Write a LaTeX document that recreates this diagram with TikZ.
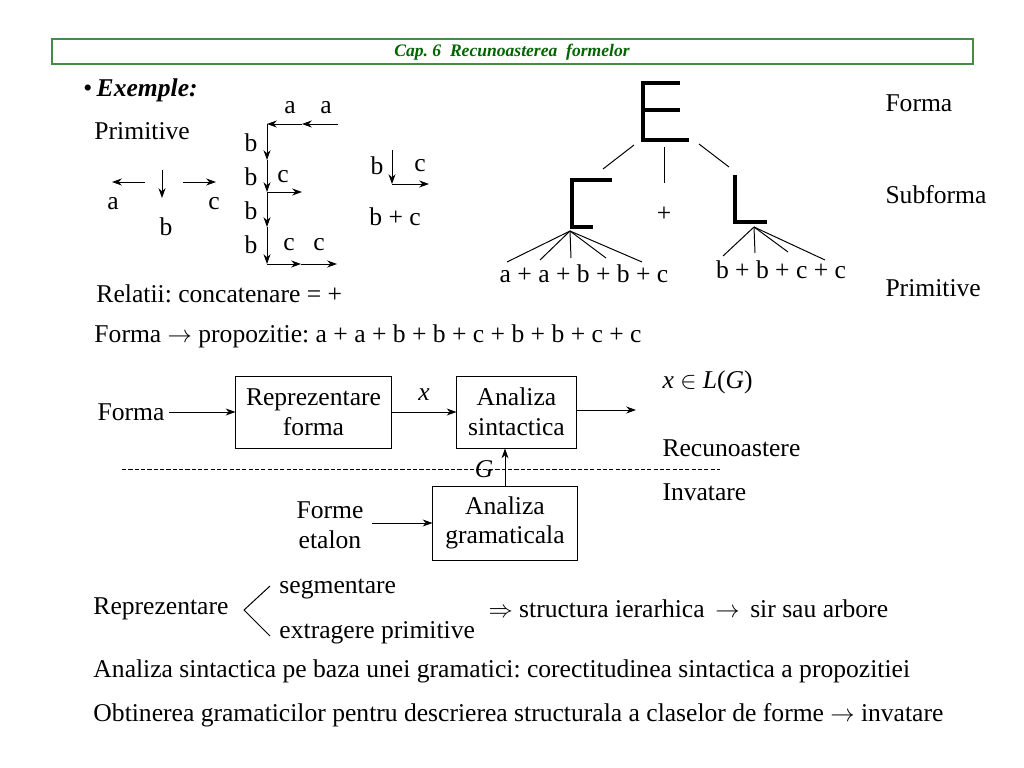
\documentclass[tikz,border=0pt]{standalone}
\usepackage{fontspec}
\setmainfont{Liberation Serif}
\usetikzlibrary{arrows.meta}
\definecolor{titlugreen}{RGB}{0,100,0}
\definecolor{ramagreen}{RGB}{70,140,70}
\frenchspacing
\begin{document}
\begin{tikzpicture}[x=0.025cm,y=-0.025cm,>={Stealth[length=7pt,width=5pt]},
  line width=0.7pt,
  txt/.style={font=\fontsize{18.2}{21}\selectfont, inner sep=0pt},
  lft/.style={txt, anchor=west},
  blok/.style={draw, line width=0.7pt, txt, align=center, minimum height=1.8cm},
  groasa/.style={line width=2.2pt}]

  \useasboundingbox (0,0) rectangle (1024,768);

  % -------------------------
  % Antet
  % -------------------------
  \draw[ramagreen, line width=1pt] (52,39) rectangle (973,64);
  \node[font=\fontsize{12.5}{14}\selectfont\bfseries\itshape, text=titlugreen] (titlu) at (512,52)
    {Cap. 6 \ Recunoasterea \ formelor};

  % -------------------------
  % Exemple: primitive
  % -------------------------
  \node[lft] (exemple) at (83,90) {\textbullet\,\textbf{\textit{Exemple:}}};
  \node[lft] (prim) at (94,131) {Primitive};

  \draw[->] (145,182) -- (112,182);
  \draw[->] (162,170) -- (162,198);
  \draw[->] (183,182) -- (216,182);
  \node[txt] (pa) at (113,204) {a};
  \node[txt] (pb) at (166,227) {b};
  \node[txt] (pc) at (214,204) {c};

  % lantul de primitive
  \draw[->] (338,124) -- (302,124);
  \draw[->] (302,124) -- (267,124);
  \draw[->] (267,124) -- (267,160);
  \draw[->] (267,160) -- (267,192);
  \draw[->] (267,192) -- (302,192);
  \draw[->] (267,192) -- (267,227);
  \draw[->] (267,227) -- (267,264);
  \draw[->] (267,264) -- (301,264);
  \draw[->] (301,264) -- (337,264);
  \node[txt] (la1) at (290,108) {a};
  \node[txt] (la2) at (326,108) {a};
  \node[txt] (lb1) at (251,143) {b};
  \node[txt] (lb2) at (251,177) {b};
  \node[txt] (lb3) at (251,211) {b};
  \node[txt] (lb4) at (251,245) {b};
  \node[txt] (lc1) at (283,177) {c};
  \node[txt] (lc2) at (289,245) {c};
  \node[txt] (lc3) at (319,245) {c};

  % b + c
  \draw[->] (392,150) -- (392,184);
  \draw[->] (392,184) -- (429,184);
  \node[txt] (bb) at (377,166) {b};
  \node[txt] (bc) at (420,166) {c};
  \node[txt] (bpc) at (395,217) {b + c};

  % -------------------------
  % Arborele formei
  % -------------------------
  \draw[groasa] (680,83) -- (643,83) -- (643,140) -- (689,140);
  \draw[groasa] (643,110) -- (680,110);
  \draw (634,145) -- (603,169);
  \draw (664,147) -- (664,183);
  \draw (699,144) -- (729,167);

  \draw[groasa] (612,180) -- (572,180) -- (572,227) -- (593,227);
  \node[txt] (plus) at (664,214) {+};
  \draw[groasa] (735,175) -- (735,222) -- (767,222);

  \coordinate (vst) at (570,231);
  \foreach \xx/\yy in {507/262, 540/260, 571/258, 606/258, 642/262}
    \draw (vst) -- (\xx,\yy);
  \node[txt] (sirst) at (584,274) {a + a + b + b + c};

  \coordinate (vdr) at (754,227);
  \foreach \xx/\yy in {723/256, 755/253, 788/252, 825/260}
    \draw (vdr) -- (\xx,\yy);
  \node[txt] (sirdr) at (781,270) {b + b + c + c};

  \node[lft] (tforma) at (885,103) {Forma};
  \node[lft] (tsub) at (885,195) {Subforma};
  \node[lft] (tprim) at (885,288) {Primitive};

  \node[lft] (relatii) at (96,294) {Relatii: concatenare = +};
  \node[lft] (propoz) at (94,336)
    {Forma $\rightarrow$ propozitie: a + a + b + b + c + b + b + c + c};

  % -------------------------
  % Schema bloc
  % -------------------------
  \node[blok, minimum width=3.875cm] (repr) at (313.5,412) {Reprezentare\\forma};
  \node[blok, minimum width=2.975cm] (sint) at (516.5,412) {Analiza\\sintactica};
  \node[blok, minimum width=3.6cm, minimum height=1.85cm] (gram) at (505,523) {Analiza\\gramaticala};

  \node[txt] (forma) at (131,412) {Forma};
  \node[txt, align=center] (etalon) at (330,525) {Forme\\etalon};
  \coordinate (iesire) at (636,410);

  \draw[->] ([xshift=3pt]forma.east |- repr) -- (repr.west);
  \draw[->] (repr) -- node[above=8pt, txt] (xlab) {\textit{x}} (sint);
  \draw[->] (sint.east |- iesire) -- (iesire);
  \draw[->] ([xshift=6pt]etalon.east |- gram) -- (gram);
  \draw[->] (gram.north) -- (gram.north |- sint.south);

  \draw[dashed, line width=0.5pt, dash pattern=on 3pt off 1.5pt] (122,469) -- (720,469);
  \node[txt] (glab) at (484,469) {\textit{G}};

  \node[lft] (apart) at (662,382) {\textit{x} $\in$ \textit{L}(\textit{G})};
  \node[lft] (recun) at (662,448) {Recunoastere};
  \node[lft] (invat) at (662,492) {Invatare};

  % -------------------------
  % Reprezentare
  % -------------------------
  \node[lft] (repz) at (93,609) {Reprezentare};
  \draw (270,586) -- (244,610) -- (270,636);
  \node[lft] (segm) at (279,589) {segmentare};
  \node[lft] (extr) at (279,633) {extragere primitive};
  \node[lft] (struct) at (488,609)
    {$\Rightarrow$ structura ierarhica \,$\rightarrow$\, sir sau arbore};

  \node[lft] (analiza) at (93,671)
    {Analiza sintactica pe baza unei gramatici: corectitudinea sintactica a propozitiei};
  \node[lft] (obtin) at (93,715)
    {Obtinerea gramaticilor pentru descrierea structurala a claselor de forme $\rightarrow$ invatare};

\end{tikzpicture}
\end{document}
